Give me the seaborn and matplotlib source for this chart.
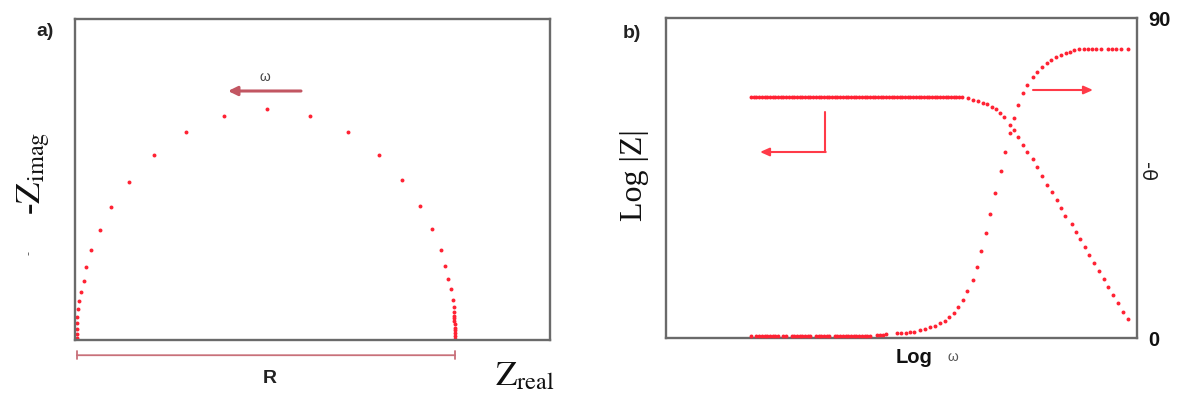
import matplotlib
matplotlib.use("Agg")
import matplotlib.pyplot as plt
import seaborn as sns

# ---------------- data ----------------
# Nyquist plot of a parallel RC element (R = 100): real part vs. negative imaginary part
z_real = [100.0, 100.0, 100.0, 100.0, 99.9, 99.9, 99.8, 99.8, 99.7, 99.6,
          99.7, 99.5, 98.9, 98.1, 97.4, 96.3, 93.9, 90.7, 86.0, 79.9,
          71.7, 61.6, 50.3,
          38.9, 28.8, 20.4, 13.8, 9.0, 6.1, 3.7, 2.4, 1.9, 1.1,
          0.5, 0.2, 0.1, 0.05, 0.0, 0.0, 0.0]
z_imag_neg = [0.1, 0.7, 1.35, 2.0, 2.6, 3.3, 4.0, 4.6, 5.2, 5.9,
              7.0, 8.6, 11.0, 13.1, 15.9, 19.4, 24.0, 29.0, 34.6, 40.0,
              45.0, 48.5, 50.0,
              48.5, 45.0, 40.0, 34.2, 28.7, 23.7, 19.4, 15.7, 12.7, 10.3,
              8.4, 6.6, 4.9, 3.6, 2.3, 1.2, 0.3]
r_value = 100.0

# Bode plot: log(omega) vs log|Z| (left axis, arbitrary units)
logw_mag = [31, 32, 33, 34, 35, 36, 37, 38, 39, 40, 41, 42, 43, 44, 45, 46, 47, 48, 49, 50,
            51, 52, 53, 54, 55, 56, 57, 58, 59, 60, 61, 62, 63, 64, 65, 66, 67, 68, 69, 70,
            71, 72, 73, 74, 75, 76, 77, 78, 79, 80, 81, 82, 83, 84, 85, 86, 87, 88, 89, 90,
            91, 92, 93, 94, 95, 96, 97, 98, 99, 100, 101, 102, 103, 104, 105, 106, 107, 108, 109,
            111.5, 113.3, 115.2, 117.0, 118.5, 120.1, 121.6, 123.2, 124.7, 126.7,
            128.4, 130.0, 131.6, 133.3, 135.3, 137.0, 138.8, 140.4, 142.5, 144.2,
            145.8, 147.4, 149.8, 151.4, 152.9, 154.6, 156.3, 158.1, 160.0, 161.7,
            163.3, 165.1, 167.0, 168.6, 170.5]
log_z = [75.4, 75.4, 75.4, 75.4, 75.4, 75.4, 75.4, 75.4, 75.4, 75.4, 75.4, 75.4, 75.4, 75.4, 75.4, 75.4, 75.4, 75.4, 75.4, 75.4,
         75.4, 75.4, 75.4, 75.4, 75.4, 75.4, 75.4, 75.4, 75.4, 75.4, 75.4, 75.4, 75.4, 75.4, 75.4, 75.4, 75.4, 75.4, 75.4, 75.4,
         75.4, 75.4, 75.4, 75.4, 75.4, 75.4, 75.4, 75.4, 75.4, 75.4, 75.4, 75.4, 75.4, 75.4, 75.4, 75.4, 75.4, 75.4, 75.4, 75.4,
         75.4, 75.4, 75.4, 75.4, 75.4, 75.4, 75.4, 75.4, 75.4, 75.4, 75.4, 75.4, 75.4, 75.4, 75.4, 75.4, 75.4, 75.4, 75.4,
         74.9, 74.4, 74.1, 73.5, 73.0, 72.3, 71.5, 70.4, 69.0, 66.7,
         65.0, 62.7, 60.2, 58.0, 55.8, 53.4, 50.6, 47.8, 45.5, 43.2,
         40.5, 38.2, 35.5, 33.1, 30.8, 28.4, 25.8, 23.5, 20.8, 18.3,
         16.0, 13.3, 11.0, 8.2, 6.0]

# Bode plot: log(omega) vs -phase in degrees (right axis)
logw_phase = [31, 33, 34, 35, 36, 37, 38, 39, 40, 41, 43, 44, 46, 47, 48, 49, 50, 51, 52, 53,
              55, 56, 57, 58, 59, 60, 62, 63, 64, 65, 66, 67, 68, 69, 70, 71, 72, 73, 74, 75,
              77.5, 78.7, 79.9, 81.1, 85.0, 86.6, 88.2, 89.8, 91.4, 93.6, 95.4,
              97.3, 99.1, 101.0, 102.8, 104.4, 106.2, 107.8, 109.3, 111.0, 113.2,
              114.8, 116.3, 118.0, 119.6, 121.2, 123.5, 125.2, 126.7, 128.4, 130.0,
              131.6, 133.3, 135.5, 137.0, 138.9, 140.5, 142.0, 143.9, 145.7, 147.5,
              149.1, 150.7, 152.5, 154.1, 155.7, 157.3, 158.9, 160.5, 163.1, 164.7,
              166.3, 167.9, 170.4]
phase_neg = [0.5, 0.5, 0.5, 0.5, 0.5, 0.5, 0.5, 0.5, 0.5, 0.5, 0.5, 0.5, 0.5, 0.5, 0.5, 0.5, 0.5, 0.5, 0.5, 0.5,
             0.5, 0.5, 0.5, 0.5, 0.5, 0.5, 0.5, 0.5, 0.5, 0.5, 0.5, 0.5, 0.5, 0.5, 0.5, 0.5, 0.5, 0.5, 0.5, 0.5,
             0.8, 0.9, 0.9, 1.0, 1.3, 1.4, 1.5, 1.6, 1.8, 2.2, 2.6,
             3.0, 3.5, 4.1, 4.8, 5.8, 7.1, 8.7, 10.8, 13.3, 16.3,
             19.9, 24.5, 29.4, 34.9, 40.9, 46.9, 52.2, 57.6, 61.8, 65.5,
             68.8, 71.2, 73.3, 74.8, 76.3, 77.4, 78.2, 78.9, 79.5, 80.1,
             80.5, 80.9, 81.2, 81.2, 81.2, 81.2, 81.2, 81.2, 81.2, 81.2,
             81.2, 81.2, 81.2]
phase_ticks = [0, 90]
phase_ticklabels = ["0", "90"]

# ---------------- style ----------------
sns.set_theme(style="white")
plt.rcParams["font.family"] = ["Liberation Sans", "DejaVu Sans"]
plt.rcParams["mathtext.fontset"] = "stix"

W, H = 1178, 394
DOT = "#ff2233"
FRAME = "#6a6a6a"
DARK_ARROW = "#c25662"
BRIGHT_ARROW = "#ff3a48"

fig = plt.figure(figsize=(W / 100, H / 100), dpi=100)


def fp(x, y):
    """Pixel position (from top-left) to figure fraction."""
    return x / W, 1 - y / H


def frame(ax):
    for sp in ax.spines.values():
        sp.set_visible(True)
        sp.set_color(FRAME)
        sp.set_linewidth(1.7)
    ax.set_xticks([])
    ax.set_yticks([])


# ---------------- panel a: Nyquist ----------------
ax_a = fig.add_axes([75 / W, 1 - 340 / H, 475 / W, 321 / H])
sns.scatterplot(x=z_real, y=z_imag_neg, ax=ax_a, color=DOT, s=8, linewidth=0)
ax_a.set_xlim(-0.5, 125.1)
ax_a.set_ylim(-0.1, 69.5)
frame(ax_a)

# -Z_imag label on the left
ax_a.set_ylabel(r"-$\mathrm{Z}_{\mathrm{imag}}$", fontsize=25,
                family=["Liberation Serif", "DejaVu Serif"], color="#111111")
ax_a.yaxis.set_label_coords(-0.048, 0.52)
fig.text(*fp(30, 253), "-", rotation=90, fontsize=9, color="#555555",
         ha="center", va="center")

# Z_real label at the bottom right
ax_a.set_xlabel(r"$\mathrm{Z}_{\mathrm{real}}$", fontsize=25, color="#111111")
ax_a.xaxis.set_label_coords(0.947, -0.06)

# R bracket below the semicircle
ax_a.annotate("", xy=(0, -3.4), xytext=(r_value, -3.4),
              arrowprops=dict(arrowstyle="|-|,widthA=0.25,widthB=0.25",
                              color="#c8707a", lw=1.3, shrinkA=0, shrinkB=0),
              annotation_clip=False)
ax_a.text(r_value / 2 + 1, -6.6, "R", fontsize=14, fontweight="bold",
          color="#222222", ha="center", va="top")

# frequency arrow
ax_a.annotate("", xy=fp(228, 91), xytext=fp(301, 91), xycoords="figure fraction",
              textcoords="figure fraction",
              arrowprops=dict(arrowstyle="-|>,head_length=0.45,head_width=0.22",
                              color=DARK_ARROW, lw=2.2, shrinkA=0, shrinkB=0))
fig.text(*fp(265, 77), "ω", fontsize=10, color="#444444", ha="center", va="center")
fig.text(*fp(45, 31), "a)", fontsize=14, fontweight="bold", color="#222222",
         ha="center", va="center")

# ---------------- panel b: Bode ----------------
ax_b = fig.add_axes([666 / W, 1 - 338 / H, 471 / W, 320 / H])
sns.scatterplot(x=logw_mag, y=log_z, ax=ax_b, color=DOT, s=8, linewidth=0)
ax_b.set_xlim(-0.5, 173.9)
ax_b.set_ylim(0, 100)
frame(ax_b)
ax_b.set_ylabel("Log |Z|", fontsize=23, family=["Liberation Serif", "DejaVu Serif"],
                color="#111111")
ax_b.yaxis.set_label_coords(-0.036, 0.51)
ax_b.set_xlabel("Log", fontsize=14.5, fontweight="bold", color="#111111")
ax_b.xaxis.set_label_coords(0.527, -0.032)
fig.text(*fp(953, 357), "ω", fontsize=10, color="#555555", ha="center", va="center")

ax_p = ax_b.twinx()
sns.scatterplot(x=logw_phase, y=phase_neg, ax=ax_p, color=DOT, s=8, linewidth=0)
ax_p.set_ylim(0, 90)
for sp in ax_p.spines.values():
    sp.set_visible(False)
ax_p.set_yticks(phase_ticks)
ax_p.set_yticklabels(phase_ticklabels, fontsize=14.5, fontweight="bold", color="#111111")
ax_p.tick_params(axis="y", length=0, pad=8)
ax_p.set_ylabel("-θ", rotation=270, fontsize=14, color="#222222",
                family=["DejaVu Sans"])
ax_p.yaxis.set_label_coords(1.04, 0.52)

# arrows pointing to the relevant axis
fig.add_artist(plt.Line2D([825 / W, 825 / W], [1 - 112 / H, 1 - 152 / H],
                          color=BRIGHT_ARROW, lw=1.5, transform=fig.transFigure))
ax_b.annotate("", xy=fp(760, 152), xytext=fp(825.7, 152), xycoords="figure fraction",
              textcoords="figure fraction",
              arrowprops=dict(arrowstyle="-|>,head_length=0.45,head_width=0.2",
                              color=BRIGHT_ARROW, lw=1.5, shrinkA=0, shrinkB=0))
ax_b.annotate("", xy=fp(1093, 90), xytext=fp(1033, 90), xycoords="figure fraction",
              textcoords="figure fraction",
              arrowprops=dict(arrowstyle="-|>,head_length=0.45,head_width=0.2",
                              color=BRIGHT_ARROW, lw=1.5, shrinkA=0, shrinkB=0))
fig.text(*fp(632, 33), "b)", fontsize=14, fontweight="bold", color="#222222",
         ha="center", va="center")

fig.savefig("out.png", dpi=100, facecolor="white")
